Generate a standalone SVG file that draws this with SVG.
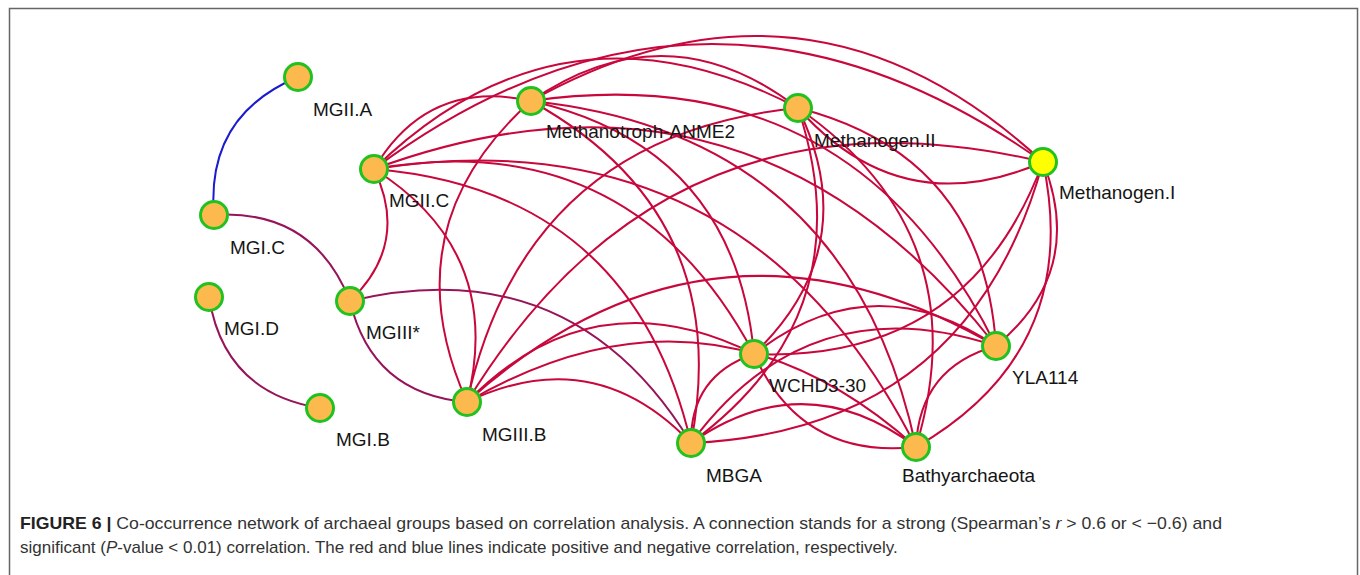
<svg xmlns="http://www.w3.org/2000/svg" width="1360" height="575" viewBox="0 0 1360 575">
<style>
.e{fill:none;stroke:#c8073c;stroke-width:2}
.p{fill:none;stroke:#961459;stroke-width:2}
.b{fill:none;stroke:#1a1ad0;stroke-width:2}
.n{fill:#fbb94e;stroke:#1fc21f;stroke-width:3}
.y{fill:#ffff00;stroke:#1fc21f;stroke-width:3}
.l{font-family:"Liberation Sans",Arial,sans-serif;font-size:19px;fill:#151515}
.c{font-family:"Liberation Sans",Arial,sans-serif;font-size:17px;fill:#333}
</style>
<rect x="9.5" y="8.5" width="1348" height="620" fill="#fff" stroke="#666" stroke-width="1.5"/>
<g id="connectors">
<path class="b" d="M214 215 Q205.9 115.5 298 77"/>
<path class="p" d="M214 215 Q313.2 208.6 350 301"/>
<path class="p" d="M320 408 Q224.2 392.8 209 297"/>
<path class="e" d="M374 169 Q410 243.7 350 301"/>
<path class="p" d="M467 402 Q371.8 394 350 301"/>
<path class="p" d="M350 301 Q572.1 248.1 691 443"/>
<path class="e" d="M374 169 Q505.1 251.7 467 402"/>
<path class="e" d="M374 169 Q427.8 78 531 101"/>
<path class="e" d="M374 169 Q706 -77.6 1043 162"/>
<path class="e" d="M374 169 Q563.8 -15.5 798 108"/>
<path class="e" d="M374 169 Q746 111.1 916 447"/>
<path class="e" d="M374 169 Q632 190.8 691 443"/>
<path class="e" d="M374 169 Q631.2 123.4 754 354"/>
<path class="e" d="M374 169 Q749.3 31.5 996 346"/>
<path class="e" d="M467 402 Q389.6 228.2 531 101"/>
<path class="e" d="M467 402 Q667.8 72.7 1043 162"/>
<path class="e" d="M467 402 Q525.7 134.7 798 108"/>
<path class="e" d="M467 402 Q707.8 261.4 916 447"/>
<path class="e" d="M467 402 Q593.9 341.1 691 443"/>
<path class="e" d="M467 402 Q593.1 273.7 754 354"/>
<path class="e" d="M467 402 Q711.2 181.8 996 346"/>
<path class="e" d="M531 101 Q809.2 -54.5 1043 162"/>
<path class="e" d="M531 101 Q667 7.5 798 108"/>
<path class="e" d="M531 101 Q849.2 134.1 916 447"/>
<path class="e" d="M531 101 Q735.2 213.9 691 443"/>
<path class="e" d="M531 101 Q734.4 146.5 754 354"/>
<path class="e" d="M531 101 Q852.5 54.6 996 346"/>
<path class="e" d="M1043 162 Q900.9 224 798 108"/>
<path class="e" d="M1043 162 Q1083 350.6 916 447"/>
<path class="e" d="M1043 162 Q969.1 430.4 691 443"/>
<path class="e" d="M1043 162 Q968.3 363 754 354"/>
<path class="e" d="M1043 162 Q1086.3 271.1 996 346"/>
<path class="e" d="M798 108 Q980.2 234.6 916 447"/>
<path class="e" d="M798 108 Q866.2 314.4 691 443"/>
<path class="e" d="M798 108 Q865.4 247 754 354"/>
<path class="e" d="M798 108 Q983.5 155.1 996 346"/>
<path class="e" d="M691 443 Q805 363.3 916 447"/>
<path class="e" d="M916 447 Q801.2 459.4 754 354"/>
<path class="e" d="M916 447 Q919.3 367.4 996 346"/>
<path class="e" d="M691 443 Q690.2 375.6 754 354"/>
<path class="e" d="M691 443 Q808.3 283.7 996 346"/>
<path class="e" d="M754 354 Q872.1 262.1 996 346"/>
</g>
<g id="MGII.A"><circle class="n" cx="298" cy="77" r="13.5"/><text class="l" x="313" y="116">MGII.A</text></g>
<g id="MGI.C"><circle class="n" cx="214" cy="215" r="13.5"/><text class="l" x="230" y="254">MGI.C</text></g>
<g id="MGII.C"><circle class="n" cx="374" cy="169" r="13.5"/><text class="l" x="389" y="207">MGII.C</text></g>
<g id="MGI.D"><circle class="n" cx="209" cy="297" r="13.5"/><text class="l" x="224" y="335">MGI.D</text></g>
<g id="MGIII-star"><circle class="n" cx="350" cy="301" r="13.5"/><text class="l" x="366" y="339">MGIII*</text></g>
<g id="MGI.B"><circle class="n" cx="320" cy="408" r="13.5"/><text class="l" x="336" y="446">MGI.B</text></g>
<g id="MGIII.B"><circle class="n" cx="467" cy="402" r="13.5"/><text class="l" x="482" y="441">MGIII.B</text></g>
<g id="Methanotroph-ANME2"><circle class="n" cx="531" cy="101" r="13.5"/><text class="l" x="546" y="138">Methanotroph-ANME2</text></g>
<g id="Methanogen.II"><circle class="n" cx="798" cy="108" r="13.5"/><text class="l" x="814" y="147">Methanogen.II</text></g>
<g id="Methanogen.I"><circle class="y" cx="1043" cy="162" r="13.5"/><text class="l" x="1059" y="199">Methanogen.I</text></g>
<g id="WCHD3-30"><circle class="n" cx="754" cy="354" r="13.5"/><text class="l" x="769" y="392">WCHD3-30</text></g>
<g id="YLA114"><circle class="n" cx="996" cy="346" r="13.5"/><text class="l" x="1012" y="384">YLA114</text></g>
<g id="MBGA"><circle class="n" cx="691" cy="443" r="13.5"/><text class="l" x="706" y="482">MBGA</text></g>
<g id="Bathyarchaeota"><circle class="n" cx="916" cy="447" r="13.5"/><text class="l" x="902" y="482">Bathyarchaeota</text></g>
<g id="caption">
<text class="c" x="20" y="529" textLength="1202" lengthAdjust="spacingAndGlyphs"><tspan font-weight="bold" fill="#222">FIGURE 6 |</tspan> Co-occurrence network of archaeal groups based on correlation analysis. A connection stands for a strong (Spearman’s <tspan font-style="italic">r</tspan> &gt; 0.6 or &lt; −0.6) and</text>
<text class="c" x="20" y="553">significant (<tspan font-style="italic">P</tspan>-value &lt; 0.01) correlation. The red and blue lines indicate positive and negative correlation, respectively.</text>
</g>
</svg>
